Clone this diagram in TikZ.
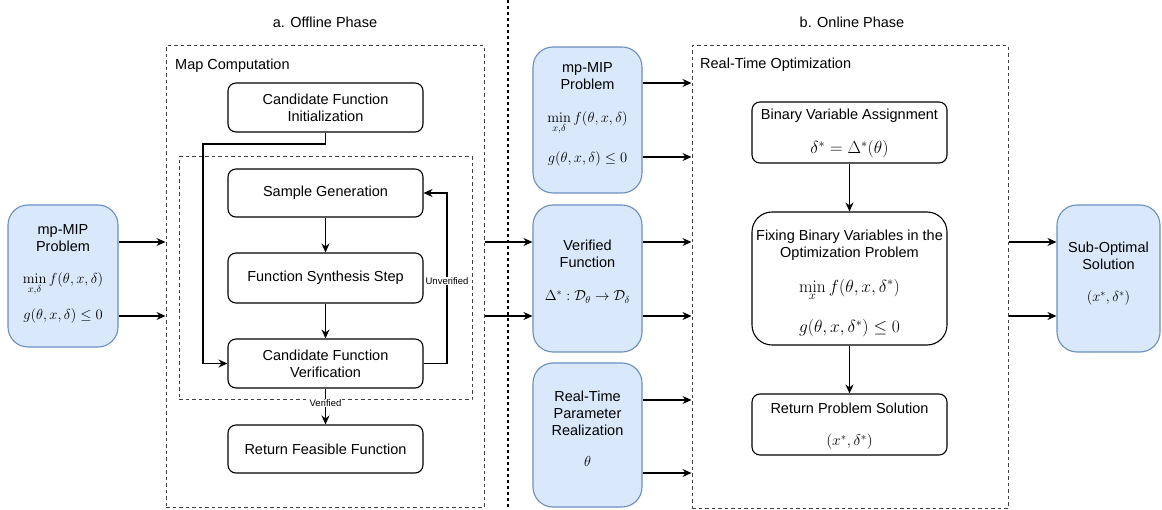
\RequirePackage{fix-cm}
\documentclass[tikz,border=0pt]{standalone}
\usepackage[no-math]{fontspec}
\setmainfont{Liberation Sans}
\usetikzlibrary{arrows.meta,calc}
\definecolor{bfill}{HTML}{DAE8FC}
\definecolor{bline}{HTML}{6C8EBF}
\newcommand{\myfs}{\fontsize{14.5}{17}\selectfont}
\newcommand{\mysm}{\fontsize{9.5}{11}\selectfont}
\newcommand{\mybig}{\fontsize{17.5}{20}\selectfont}
\newcommand{\mymid}{\fontsize{15.5}{18}\selectfont}
\tikzset{
  wbox/.style={draw=black, line width=1.1pt, rounded corners=8pt, minimum width=195pt, inner sep=0pt, align=center, font=\myfs, fill=white},
  bbox/.style={draw=bline, fill=bfill, line width=1.1pt, rounded corners=20pt, inner sep=0pt},
  txt/.style={font=\myfs, align=center, inner sep=0pt},
  mth/.style={font=\myfs, inner sep=0pt, anchor=base},
  arr/.style={line width=1.1pt, -{Stealth[length=9pt,width=8pt]}},
  dbox/.style={draw=black!75, line width=1pt, dash pattern=on 3.5pt off 3pt, inner sep=0pt},
  lbl/.style={font=\mysm, fill=white, inner sep=1pt},
}
\begin{document}
\begin{tikzpicture}[x=1pt,y=-1pt]
\useasboundingbox (0,0) rectangle (1162,510);
% titles
\node[txt] (ta) at (325,22) {a. Offline Phase};
\node[txt] (tb) at (852,22) {b. Online Phase};
% phase separator
\coordinate (septop) at (508,0);
\coordinate (sepbot) at (508,510);
\draw[line width=1.1pt, dash pattern=on 3pt off 3pt] (septop) -- (sepbot);

% containers
\node[dbox, minimum width=318pt, minimum height=461pt] (mc) at (325,276.5) {};
\node[txt, anchor=west] (mct) at (175,66) {Map Computation};
\node[dbox, minimum width=293pt, minimum height=243pt] (inner) at (325.5,278.5) {};
\node[dbox, minimum width=316pt, minimum height=462pt] (rto) at (850,277) {};
\node[txt, anchor=west] (rtot) at (700,65) {Real-Time Optimization};

% left input box
\node[bbox, minimum width=110pt, minimum height=142pt] (lp) at (63,276) {};
\node[txt] (lpt) at (63,238) {mp-MIP\\Problem};
\node[mth] (lpf) at (63,283.5) {$\displaystyle\min_{x,\delta} f(\theta,x,\delta)$};
\node[mth] (lpg) at (63,320) {$g(\theta,x,\delta)\leq 0$};

% offline boxes
\node[wbox, minimum height=49pt] (ini) at (325.5,107.5) {Candidate Function\\Initialization};
\node[wbox, minimum height=48pt] (sg) at (325.5,193) {Sample Generation};
\node[wbox, minimum height=50pt] (fs) at (325.5,278) {Function Synthesis Step};
\node[wbox, minimum height=49pt] (ver) at (325.5,363.5) {Candidate Function\\Verification};
\node[wbox, minimum height=48pt] (ret) at (325.5,449) {Return Feasible Function};

\coordinate (k1) at (203,144);
\coordinate (k2) at (447,0);
\draw[arr] (ini.south) |- (k1) |- (ver.west);
\draw[arr] (sg) -- (fs);
\draw[arr] (fs) -- (ver);
\draw[arr] (ver.east) -- (ver.east -| k2) -- (sg.east -| k2) -- (sg.east);
\node[lbl] (unv) at (447,281) {Unverified};
\draw[arr] (ver) -- (ret);
\node[lbl] (vl) at (325.5,403) {Verified};

% middle column
\node[bbox, minimum width=109pt, minimum height=146pt] (mp2) at (587.5,120) {};
\node[txt] (mp2t) at (587.5,76) {mp-MIP\\Problem};
\node[mth] (mp2f) at (587.5,123) {$\displaystyle\min_{x,\delta} f(\theta,x,\delta)$};
\node[mth] (mp2g) at (587.5,163) {$g(\theta,x,\delta)\leq 0$};

\node[bbox, minimum width=109pt, minimum height=147pt] (vf) at (587.5,278.5) {};
\node[txt] (vft) at (587.5,254) {Verified\\Function};
\node[mth] (vff) at (587.5,301) {$\Delta^*:\mathcal{D}_\theta\rightarrow\mathcal{D}_\delta$};

\node[bbox, minimum width=109pt, minimum height=144pt] (rtp) at (587.5,435) {};
\node[txt] (rtpt) at (587.5,413) {Real-Time\\Parameter\\Realization};
\node[mth] (rtpf) at (587.5,466) {$\theta$};

% online boxes
\node[wbox, minimum height=61pt] (bva) at (849.5,132.5) {};
\node[txt] (bvat) at (849.5,116) {Binary Variable Assignment};
\node[mth, font=\mybig] (bvaf) at (849.5,154) {$\delta^*=\Delta^*(\theta)$};

\node[wbox, minimum height=133pt, rounded corners=20pt] (fix) at (849.5,278.5) {};
\node[txt] (fixt) at (849.5,245.5) {Fixing Binary Variables in the\\Optimization Problem};
\node[mth, font=\mybig] (fixf) at (849.5,293) {$\displaystyle\min_{x} f(\theta,x,\delta^*)$};
\node[mth, font=\mybig] (fixg) at (849.5,333) {$g(\theta,x,\delta^*)\leq 0$};

\node[wbox, minimum height=61pt] (rps) at (849.5,424.5) {};
\node[txt] (rpst) at (849.5,408) {Return Problem Solution};
\node[mth, font=\mymid] (rpsf) at (849.5,446) {$(x^*,\delta^*)$};

\draw[arr] (bva) -- (fix);
\draw[arr] (fix) -- (rps);

% output box
\node[bbox, minimum width=103pt, minimum height=147pt] (so) at (1108.5,278.5) {};
\node[txt] (sot) at (1108.5,256) {Sub-Optimal\\Solution};
\node[mth] (sof) at (1108.5,302) {$(x^*,\delta^*)$};

% arrow rows
\coordinate (r1) at (0,242);
\coordinate (r2) at (0,316);
\coordinate (m1) at (0,83);
\coordinate (m2) at (0,157);
\coordinate (p1) at (0,400);
\coordinate (p2) at (0,473);
\draw[arr] (lp.east |- r1) -- (mc.west |- r1);
\draw[arr] (lp.east |- r2) -- (mc.west |- r2);
\draw[arr] (mc.east |- r1) -- (vf.west |- r1);
\draw[arr] (mc.east |- r2) -- (vf.west |- r2);
\draw[arr] (vf.east |- r1) -- (rto.west |- r1);
\draw[arr] (vf.east |- r2) -- (rto.west |- r2);
\draw[arr] (mp2.east |- m1) -- (rto.west |- m1);
\draw[arr] (mp2.east |- m2) -- (rto.west |- m2);
\draw[arr] (rtp.east |- p1) -- (rto.west |- p1);
\draw[arr] (rtp.east |- p2) -- (rto.west |- p2);
\draw[arr] (rto.east |- r1) -- (so.west |- r1);
\draw[arr] (rto.east |- r2) -- (so.west |- r2);
\end{tikzpicture}
\end{document}
